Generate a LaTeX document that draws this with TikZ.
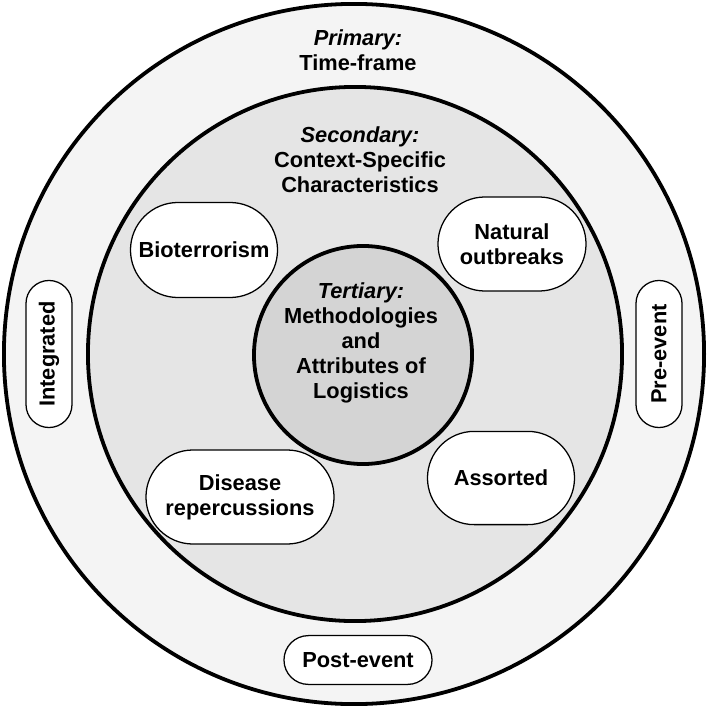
\documentclass[tikz,border=0pt]{standalone}
\usepackage{fontspec}
\setmainfont{Liberation Sans}
\usetikzlibrary{shapes.misc}
\definecolor{outerfill}{gray}{0.955}
\definecolor{midfill}{gray}{0.9}
\definecolor{innerfill}{gray}{0.83}
\begin{document}
\begin{tikzpicture}[x=0.025cm,y=-0.025cm,
  every node/.style={font=\bfseries\fontsize{15.5}{17.8}\selectfont,align=center},
  ring/.style={circle,draw,line width=2.7pt,inner sep=0pt},
  pill/.style={rounded rectangle,draw,fill=white,line width=0.9pt,inner sep=0pt}]
\useasboundingbox (0,0) rectangle (708,708);
% the three levels
\node[ring,fill=outerfill,minimum size=17.5cm] (prim) at (354,354) {};
\node[ring,fill=midfill,minimum size=13.35cm] (sec) at (355,354) {};
\node[ring,fill=innerfill,minimum size=5.45cm] (tert) at (363,355) {};

\node (primtxt) at (358,50) {\textit{Primary:}\\Time-frame};
\node (sectxt) at (360,160) {\textit{Secondary:}\\Context-Specific\\Characteristics};
\node (terttxt) at (361,343) {\textit{Tertiary:}\\Methodologies\\and\\Attributes of\\Logistics};

% context-specific characteristics
\node[pill,minimum width=3.675cm,minimum height=2.375cm] (bio) at (204,250) {Bioterrorism};
\node[pill,minimum width=3.7cm,minimum height=2.35cm] (nat) at (512,244) {Natural\\outbreaks};
\node[pill,minimum width=4.7cm,minimum height=2.35cm] (dis) at (240,497) {Disease\\repercussions};
\node[pill,minimum width=3.675cm,minimum height=2.33cm] (ass) at (501,478) {Assorted};

% time-frame
\node[pill,rotate=90,minimum width=3.675cm,minimum height=1.15cm] (integ) at (49,354) {Integrated};
\node[pill,rotate=90,minimum width=3.675cm,minimum height=1.15cm] (pre) at (659,354) {Pre-event};
\node[pill,minimum width=3.7cm,minimum height=1.22cm] (post) at (358,660) {Post-event};
\end{tikzpicture}
\end{document}
